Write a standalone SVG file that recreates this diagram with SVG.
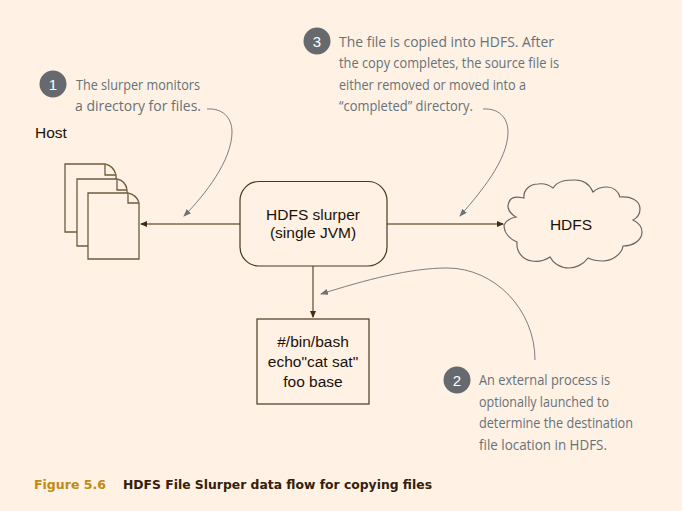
<svg xmlns="http://www.w3.org/2000/svg" width="682" height="511" viewBox="0 0 682 511">
<style>
text{font-family:"Liberation Sans",Arial,sans-serif}
.n{font-size:15.500px;fill:#1a1208;text-anchor:middle}
.h{font-family:"Open Sans","Noto Sans",sans-serif;font-size:14px;fill:#66727a}
.num{font-size:15px;fill:#fff;text-anchor:middle}
.b{fill:#666a6e}
.shape{fill:#fff1e3;stroke:#4a3820;stroke-width:1.2}
.doc{fill:#fff1e3;stroke:#6f5c3f;stroke-width:1.3}
.c{fill:none;stroke:#7d6a4c;stroke-width:1.4}
.a{fill:none;stroke:#6b7278;stroke-width:.9}
</style>
<defs>
<marker id="ah" markerWidth="7" markerHeight="6" refX="6" refY="3" orient="auto" markerUnits="userSpaceOnUse"><path d="M0 0L7 3L0 6Z" fill="#3f2c12"/></marker>
<marker id="ag" markerWidth="8" markerHeight="6" refX="7" refY="3" orient="auto" markerUnits="userSpaceOnUse"><path d="M0 0L8 3L0 6Z" fill="#6b7278"/></marker>
</defs>
<rect width="682" height="511" fill="#fff1e3"/>
<g id="connectors">
<path class="c" d="M240 224H141" marker-end="url(#ah)"/>
<path class="c" d="M387 224H503" marker-end="url(#ah)"/>
<path class="c" d="M313 266V317" marker-end="url(#ah)" style="stroke:#4a3820;stroke-width:1.1"/>
<path class="a" d="M207 109C222 108 232 117 232 132C232 160 205 195 184 216" marker-end="url(#ag)"/>
<path class="a" d="M483 109C498 108 508 117 508 132C508 160 480 193 460 216" marker-end="url(#ag)"/>
<path class="a" d="M535 360C535 310 495 268 447 268C410 268 365 280 321 294" marker-end="url(#ag)"/>
</g>
<g id="host"><text x="35" y="138" style="font-size:15.500px;fill:#1a1208">Host</text></g>
<g id="documents">
<path class="doc" d="M65 164H105Q114 166 116 175V232H65Z"/><path class="doc" d="M105 164V175H116" />
<path class="doc" d="M77 179H117Q126 181 127 190V246H77Z"/><path class="doc" d="M117 179V190H127"/>
<path class="doc" d="M88 193H128Q137 195 139 203V259H88Z"/><path class="doc" d="M128 193V203H139"/>
</g>
<g id="slurper"><rect class="shape" x="240" y="181.500" width="147" height="84.500" rx="19"/>
<text class="n" x="313" y="220">HDFS slurper</text><text class="n" x="313" y="238">(single JVM)</text></g>
<g id="script"><rect class="shape" x="257" y="319" width="112" height="85"/>
<text class="n" x="313" y="347">#/bin/bash</text><text class="n" x="313" y="367">echo"cat sat"</text><text class="n" x="313" y="387">foo base</text></g>
<g id="hdfs"><path class="shape" style="stroke:#666" d="M504 225C506 221 510 218 516 217C507 212 506 204 511 199C514 196 519 197 524 198C523 190 530 184 538 184C544 183 549 185 553 188C558 180 568 180 575 180C584 180 590 185 593 192C597 188 603 187 607 187C613 187 618 191 620 197C630 196 640 200 640 209C640 214 637 218 633 220C639 223 642 228 642 232C642 241 632 246 623 246C622 254 612 261 603 261C597 261 592 260 588 258C583 265 575 268 569 268C560 268 553 263 550 257C544 261 538 262 532 261C523 260 516 252 517 242C510 239 504 233 504 225Z"/>
<text class="n" x="571" y="230">HDFS</text></g>
<g id="note1"><circle class="b" cx="53" cy="84" r="13.500"/><text class="num" x="53" y="89.500">1</text>
<text class="h" x="76" y="90" textLength="124" lengthAdjust="spacingAndGlyphs">The slurper monitors</text>
<text class="h" x="75" y="111" textLength="126" lengthAdjust="spacingAndGlyphs">a directory for files.</text></g>
<g id="note3"><circle class="b" cx="317" cy="41" r="13.500"/><text class="num" x="317" y="46.500">3</text>
<text class="h" x="339" y="47" textLength="215" lengthAdjust="spacingAndGlyphs">The file is copied into HDFS. After</text>
<text class="h" x="339" y="68" textLength="220" lengthAdjust="spacingAndGlyphs">the copy completes, the source file is</text>
<text class="h" x="339" y="90" textLength="187" lengthAdjust="spacingAndGlyphs">either removed or moved into a</text>
<text class="h" x="339" y="111" textLength="134" lengthAdjust="spacingAndGlyphs">“completed” directory.</text></g>
<g id="note2"><circle class="b" cx="457" cy="380" r="13.500"/><text class="num" x="457" y="385.500">2</text>
<text class="h" x="479" y="385" textLength="131" lengthAdjust="spacingAndGlyphs">An external process is</text>
<text class="h" x="479" y="407" textLength="130" lengthAdjust="spacingAndGlyphs">optionally launched to</text>
<text class="h" x="479" y="428" textLength="154" lengthAdjust="spacingAndGlyphs">determine the destination</text>
<text class="h" x="479" y="450" textLength="128" lengthAdjust="spacingAndGlyphs">file location in HDFS.</text></g>
<g id="caption"><text x="34" y="489" style="font-family:'DejaVu Sans',sans-serif;font-size:13px;font-weight:bold;fill:#c08a14" textLength="72" lengthAdjust="spacingAndGlyphs">Figure 5.6</text>
<text x="123" y="489" style="font-family:'DejaVu Sans',sans-serif;font-size:13px;font-weight:bold;fill:#33200a" textLength="309" lengthAdjust="spacingAndGlyphs">HDFS File Slurper data flow for copying files</text></g>
</svg>
